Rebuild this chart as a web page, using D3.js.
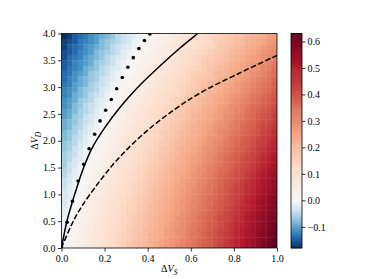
<!DOCTYPE html>
<html>
<head>
<meta charset="utf-8">
<script src="https://cdn.jsdelivr.net/npm/d3@7"></script>
<style>
  body { margin: 0; background: #fff; }
  text { font-family: "Liberation Serif", "DejaVu Serif", serif; font-size: 10px; fill: #000; }
</style>
</head>
<body>
<div id="chart"></div>
<script>
// tick labels
const vsTicks = [0, 0.2, 0.4, 0.6, 0.8, 1.0];
const vdTicks = [0, 0.5, 1.0, 1.5, 2.0, 2.5, 3.0, 3.5, 4.0];
const cbTicks = [-0.1, 0.0, 0.1, 0.2, 0.3, 0.4, 0.5, 0.6];

// heat map, 40 x 40 cells, rows go from ΔV_D = 4 (top) down to ΔV_D = 0,
// columns from ΔV_S = 0 to 1
const field = [
  [-0.18,-0.17,-0.15,-0.14,-0.13,-0.11,-0.10,-0.09,-0.08,-0.07,-0.05,-0.04,-0.03,-0.02,-0.01,0.00,0.01,0.02,0.03,0.04,0.05,0.06,0.07,0.08,0.09,0.10,0.12,0.13,0.14,0.15,0.16,0.17,0.18,0.19,0.21,0.22,0.23,0.24,0.26,0.27],
  [-0.17,-0.16,-0.15,-0.13,-0.12,-0.11,-0.10,-0.08,-0.07,-0.06,-0.05,-0.04,-0.03,-0.01,0.00,0.01,0.02,0.03,0.04,0.05,0.06,0.07,0.08,0.09,0.10,0.11,0.12,0.13,0.15,0.16,0.17,0.18,0.19,0.20,0.22,0.23,0.24,0.25,0.27,0.28],
  [-0.17,-0.15,-0.14,-0.13,-0.11,-0.10,-0.09,-0.08,-0.07,-0.05,-0.04,-0.03,-0.02,-0.01,0.00,0.01,0.02,0.03,0.05,0.06,0.07,0.08,0.09,0.10,0.11,0.12,0.13,0.14,0.15,0.17,0.18,0.19,0.20,0.21,0.23,0.24,0.25,0.27,0.28,0.29],
  [-0.16,-0.15,-0.14,-0.12,-0.11,-0.10,-0.08,-0.07,-0.06,-0.05,-0.04,-0.02,-0.01,0.00,0.01,0.02,0.03,0.04,0.05,0.06,0.07,0.08,0.10,0.11,0.12,0.13,0.14,0.15,0.16,0.17,0.19,0.20,0.21,0.22,0.24,0.25,0.26,0.28,0.29,0.30],
  [-0.16,-0.14,-0.13,-0.12,-0.10,-0.09,-0.08,-0.07,-0.05,-0.04,-0.03,-0.02,-0.01,0.00,0.02,0.03,0.04,0.05,0.06,0.07,0.08,0.09,0.10,0.11,0.13,0.14,0.15,0.16,0.17,0.18,0.19,0.21,0.22,0.23,0.25,0.26,0.27,0.29,0.30,0.31],
  [-0.15,-0.14,-0.12,-0.11,-0.10,-0.09,-0.07,-0.06,-0.05,-0.04,-0.02,-0.01,0.00,0.01,0.02,0.03,0.04,0.05,0.07,0.08,0.09,0.10,0.11,0.12,0.13,0.14,0.16,0.17,0.18,0.19,0.20,0.22,0.23,0.24,0.26,0.27,0.28,0.30,0.31,0.33],
  [-0.15,-0.13,-0.12,-0.11,-0.09,-0.08,-0.07,-0.05,-0.04,-0.03,-0.02,-0.01,0.00,0.02,0.03,0.04,0.05,0.06,0.07,0.08,0.09,0.11,0.12,0.13,0.14,0.15,0.16,0.18,0.19,0.20,0.21,0.23,0.24,0.25,0.26,0.28,0.29,0.31,0.32,0.34],
  [-0.14,-0.13,-0.11,-0.10,-0.09,-0.07,-0.06,-0.05,-0.04,-0.02,-0.01,0.00,0.01,0.02,0.03,0.05,0.06,0.07,0.08,0.09,0.10,0.11,0.12,0.14,0.15,0.16,0.17,0.18,0.20,0.21,0.22,0.23,0.25,0.26,0.27,0.29,0.30,0.32,0.33,0.35],
  [-0.14,-0.12,-0.11,-0.09,-0.08,-0.07,-0.06,-0.04,-0.03,-0.02,-0.01,0.00,0.02,0.03,0.04,0.05,0.06,0.07,0.09,0.10,0.11,0.12,0.13,0.14,0.16,0.17,0.18,0.19,0.20,0.22,0.23,0.24,0.26,0.27,0.28,0.30,0.31,0.33,0.34,0.36],
  [-0.13,-0.12,-0.10,-0.09,-0.08,-0.06,-0.05,-0.04,-0.03,-0.01,0.00,0.01,0.02,0.03,0.05,0.06,0.07,0.08,0.09,0.10,0.12,0.13,0.14,0.15,0.16,0.18,0.19,0.20,0.21,0.23,0.24,0.25,0.27,0.28,0.29,0.31,0.32,0.34,0.35,0.37],
  [-0.12,-0.11,-0.10,-0.08,-0.07,-0.06,-0.05,-0.03,-0.02,-0.01,0.00,0.02,0.03,0.04,0.05,0.06,0.08,0.09,0.10,0.11,0.12,0.13,0.15,0.16,0.17,0.18,0.20,0.21,0.22,0.23,0.25,0.26,0.27,0.29,0.30,0.32,0.33,0.35,0.36,0.38],
  [-0.12,-0.11,-0.09,-0.08,-0.07,-0.05,-0.04,-0.03,-0.01,0.00,0.01,0.02,0.03,0.05,0.06,0.07,0.08,0.09,0.11,0.12,0.13,0.14,0.15,0.17,0.18,0.19,0.20,0.22,0.23,0.24,0.26,0.27,0.28,0.30,0.31,0.33,0.34,0.36,0.37,0.39],
  [-0.11,-0.10,-0.09,-0.07,-0.06,-0.05,-0.03,-0.02,-0.01,0.00,0.02,0.03,0.04,0.05,0.06,0.08,0.09,0.10,0.11,0.12,0.14,0.15,0.16,0.17,0.18,0.20,0.21,0.22,0.24,0.25,0.26,0.28,0.29,0.31,0.32,0.34,0.35,0.37,0.38,0.40],
  [-0.11,-0.10,-0.08,-0.07,-0.05,-0.04,-0.03,-0.02,0.00,0.01,0.02,0.03,0.05,0.06,0.07,0.08,0.09,0.11,0.12,0.13,0.14,0.15,0.17,0.18,0.19,0.20,0.22,0.23,0.24,0.26,0.27,0.29,0.30,0.32,0.33,0.35,0.36,0.38,0.39,0.41],
  [-0.10,-0.09,-0.08,-0.06,-0.05,-0.04,-0.02,-0.01,0.00,0.01,0.03,0.04,0.05,0.06,0.08,0.09,0.10,0.11,0.12,0.14,0.15,0.16,0.17,0.19,0.20,0.21,0.23,0.24,0.25,0.27,0.28,0.29,0.31,0.32,0.34,0.36,0.37,0.39,0.40,0.42],
  [-0.10,-0.09,-0.07,-0.06,-0.04,-0.03,-0.02,-0.01,0.01,0.02,0.03,0.04,0.06,0.07,0.08,0.09,0.11,0.12,0.13,0.14,0.15,0.17,0.18,0.19,0.21,0.22,0.23,0.25,0.26,0.27,0.29,0.30,0.32,0.33,0.35,0.36,0.38,0.40,0.41,0.43],
  [-0.09,-0.08,-0.07,-0.05,-0.04,-0.03,-0.01,0.00,0.01,0.02,0.04,0.05,0.06,0.07,0.09,0.10,0.11,0.12,0.14,0.15,0.16,0.17,0.19,0.20,0.21,0.23,0.24,0.25,0.27,0.28,0.30,0.31,0.33,0.34,0.36,0.37,0.39,0.41,0.42,0.44],
  [-0.09,-0.08,-0.06,-0.05,-0.03,-0.02,-0.01,0.00,0.02,0.03,0.04,0.06,0.07,0.08,0.09,0.10,0.12,0.13,0.14,0.15,0.17,0.18,0.19,0.21,0.22,0.23,0.25,0.26,0.28,0.29,0.30,0.32,0.33,0.35,0.37,0.38,0.40,0.42,0.43,0.45],
  [-0.08,-0.07,-0.06,-0.04,-0.03,-0.02,0.00,0.01,0.02,0.04,0.05,0.06,0.07,0.09,0.10,0.11,0.12,0.14,0.15,0.16,0.17,0.19,0.20,0.21,0.23,0.24,0.25,0.27,0.28,0.30,0.31,0.33,0.34,0.36,0.37,0.39,0.41,0.43,0.44,0.46],
  [-0.08,-0.07,-0.05,-0.04,-0.02,-0.01,0.00,0.01,0.03,0.04,0.05,0.07,0.08,0.09,0.10,0.12,0.13,0.14,0.15,0.17,0.18,0.19,0.21,0.22,0.23,0.25,0.26,0.28,0.29,0.30,0.32,0.34,0.35,0.37,0.38,0.40,0.42,0.44,0.45,0.47],
  [-0.07,-0.06,-0.05,-0.03,-0.02,-0.01,0.01,0.02,0.03,0.05,0.06,0.07,0.08,0.10,0.11,0.12,0.13,0.15,0.16,0.17,0.19,0.20,0.21,0.23,0.24,0.25,0.27,0.28,0.30,0.31,0.33,0.34,0.36,0.38,0.39,0.41,0.43,0.44,0.46,0.48],
  [-0.07,-0.06,-0.04,-0.03,-0.01,0.00,0.01,0.02,0.04,0.05,0.06,0.08,0.09,0.10,0.11,0.13,0.14,0.15,0.17,0.18,0.19,0.21,0.22,0.23,0.25,0.26,0.28,0.29,0.30,0.32,0.34,0.35,0.37,0.38,0.40,0.42,0.44,0.45,0.47,0.49],
  [-0.06,-0.05,-0.04,-0.02,-0.01,0.00,0.02,0.03,0.04,0.06,0.07,0.08,0.09,0.11,0.12,0.13,0.15,0.16,0.17,0.18,0.20,0.21,0.23,0.24,0.25,0.27,0.28,0.30,0.31,0.33,0.34,0.36,0.38,0.39,0.41,0.43,0.44,0.46,0.48,0.50],
  [-0.06,-0.05,-0.03,-0.02,-0.01,0.01,0.02,0.03,0.05,0.06,0.07,0.09,0.10,0.11,0.12,0.14,0.15,0.16,0.18,0.19,0.20,0.22,0.23,0.25,0.26,0.27,0.29,0.30,0.32,0.33,0.35,0.37,0.38,0.40,0.42,0.43,0.45,0.47,0.49,0.51],
  [-0.06,-0.04,-0.03,-0.01,0.00,0.01,0.03,0.04,0.05,0.07,0.08,0.09,0.10,0.12,0.13,0.14,0.16,0.17,0.18,0.20,0.21,0.22,0.24,0.25,0.27,0.28,0.30,0.31,0.33,0.34,0.36,0.37,0.39,0.41,0.42,0.44,0.46,0.48,0.50,0.52],
  [-0.05,-0.04,-0.02,-0.01,0.00,0.02,0.03,0.04,0.06,0.07,0.08,0.10,0.11,0.12,0.14,0.15,0.16,0.17,0.19,0.20,0.22,0.23,0.24,0.26,0.27,0.29,0.30,0.32,0.33,0.35,0.36,0.38,0.40,0.42,0.43,0.45,0.47,0.49,0.51,0.53],
  [-0.05,-0.03,-0.02,-0.01,0.01,0.02,0.04,0.05,0.06,0.07,0.09,0.10,0.11,0.13,0.14,0.15,0.17,0.18,0.19,0.21,0.22,0.24,0.25,0.26,0.28,0.29,0.31,0.32,0.34,0.36,0.37,0.39,0.41,0.42,0.44,0.46,0.48,0.50,0.52,0.54],
  [-0.04,-0.03,-0.01,0.00,0.01,0.03,0.04,0.05,0.07,0.08,0.09,0.11,0.12,0.13,0.15,0.16,0.17,0.19,0.20,0.21,0.23,0.24,0.26,0.27,0.28,0.30,0.31,0.33,0.35,0.36,0.38,0.40,0.41,0.43,0.45,0.47,0.49,0.51,0.53,0.55],
  [-0.04,-0.02,-0.01,0.00,0.02,0.03,0.04,0.06,0.07,0.08,0.10,0.11,0.12,0.14,0.15,0.16,0.18,0.19,0.20,0.22,0.23,0.25,0.26,0.28,0.29,0.31,0.32,0.34,0.35,0.37,0.39,0.40,0.42,0.44,0.46,0.47,0.49,0.51,0.53,0.55],
  [-0.03,-0.02,-0.01,0.01,0.02,0.03,0.05,0.06,0.08,0.09,0.10,0.11,0.13,0.14,0.15,0.17,0.18,0.20,0.21,0.22,0.24,0.25,0.27,0.28,0.30,0.31,0.33,0.34,0.36,0.38,0.39,0.41,0.43,0.44,0.46,0.48,0.50,0.52,0.54,0.56],
  [-0.03,-0.02,0.00,0.01,0.03,0.04,0.05,0.07,0.08,0.09,0.11,0.12,0.13,0.15,0.16,0.17,0.19,0.20,0.21,0.23,0.24,0.26,0.27,0.29,0.30,0.32,0.33,0.35,0.36,0.38,0.40,0.42,0.43,0.45,0.47,0.49,0.51,0.53,0.55,0.57],
  [-0.03,-0.01,0.00,0.02,0.03,0.04,0.06,0.07,0.08,0.10,0.11,0.12,0.14,0.15,0.16,0.18,0.19,0.21,0.22,0.23,0.25,0.26,0.28,0.29,0.31,0.32,0.34,0.35,0.37,0.39,0.40,0.42,0.44,0.46,0.48,0.50,0.52,0.54,0.56,0.58],
  [-0.02,-0.01,0.01,0.02,0.03,0.05,0.06,0.07,0.09,0.10,0.11,0.13,0.14,0.15,0.17,0.18,0.20,0.21,0.22,0.24,0.25,0.27,0.28,0.30,0.31,0.33,0.34,0.36,0.38,0.39,0.41,0.43,0.45,0.47,0.48,0.50,0.52,0.54,0.57,0.59],
  [-0.02,0.00,0.01,0.02,0.04,0.05,0.06,0.08,0.09,0.10,0.12,0.13,0.15,0.16,0.17,0.19,0.20,0.21,0.23,0.24,0.26,0.27,0.29,0.30,0.32,0.33,0.35,0.37,0.38,0.40,0.42,0.44,0.45,0.47,0.49,0.51,0.53,0.55,0.57,0.59],
  [-0.01,0.00,0.01,0.03,0.04,0.05,0.07,0.08,0.10,0.11,0.12,0.14,0.15,0.16,0.18,0.19,0.20,0.22,0.23,0.25,0.26,0.28,0.29,0.31,0.32,0.34,0.35,0.37,0.39,0.41,0.42,0.44,0.46,0.48,0.50,0.52,0.54,0.56,0.58,0.60],
  [-0.01,0.00,0.02,0.03,0.04,0.06,0.07,0.09,0.10,0.11,0.13,0.14,0.15,0.17,0.18,0.19,0.21,0.22,0.24,0.25,0.27,0.28,0.30,0.31,0.33,0.34,0.36,0.38,0.39,0.41,0.43,0.45,0.47,0.48,0.50,0.52,0.54,0.56,0.59,0.61],
  [-0.01,0.01,0.02,0.03,0.05,0.06,0.08,0.09,0.10,0.12,0.13,0.14,0.16,0.17,0.18,0.20,0.21,0.23,0.24,0.26,0.27,0.29,0.30,0.32,0.33,0.35,0.36,0.38,0.40,0.42,0.43,0.45,0.47,0.49,0.51,0.53,0.55,0.57,0.59,0.61],
  [0.00,0.01,0.02,0.04,0.05,0.06,0.08,0.09,0.11,0.12,0.13,0.15,0.16,0.17,0.19,0.20,0.22,0.23,0.24,0.26,0.27,0.29,0.30,0.32,0.34,0.35,0.37,0.39,0.40,0.42,0.44,0.46,0.48,0.49,0.51,0.53,0.56,0.58,0.60,0.62],
  [0.00,0.01,0.03,0.04,0.05,0.07,0.08,0.09,0.11,0.12,0.14,0.15,0.16,0.18,0.19,0.20,0.22,0.23,0.25,0.26,0.28,0.29,0.31,0.32,0.34,0.36,0.37,0.39,0.41,0.42,0.44,0.46,0.48,0.50,0.52,0.54,0.56,0.58,0.60,0.63],
  [0.00,0.01,0.03,0.04,0.06,0.07,0.08,0.10,0.11,0.12,0.14,0.15,0.17,0.18,0.19,0.21,0.22,0.24,0.25,0.27,0.28,0.30,0.31,0.33,0.34,0.36,0.38,0.39,0.41,0.43,0.45,0.46,0.48,0.50,0.52,0.54,0.56,0.59,0.61,0.63]
];

// black dots
const dotVS = [0, 0.026, 0.051, 0.077, 0.103, 0.128, 0.154, 0.179, 0.205, 0.231, 0.256, 0.282, 0.308, 0.333, 0.359, 0.385, 0.41];
const dotVD = [0, 0.48, 0.87, 1.25, 1.56, 1.85, 2.12, 2.37, 2.57, 2.77, 2.97, 3.18, 3.37, 3.55, 3.72, 3.87, 3.99];

// solid curve
const solidVS = [0, 0.024, 0.051, 0.077, 0.103, 0.14, 0.2, 0.271, 0.35, 0.472, 0.55, 0.629, 0.66];
const solidVD = [0, 0.48, 0.87, 1.2, 1.5, 1.85, 2.24, 2.62, 2.98, 3.45, 3.73, 3.99, 4.09];

// dashed curve
const dashVS = [0, 0.045, 0.09, 0.182, 0.271, 0.395, 0.527, 0.643, 0.82, 1.0];
const dashVD = [0, 0.42, 0.75, 1.27, 1.70, 2.18, 2.59, 2.89, 3.25, 3.59];

const W = 371, H = 279;
const plot = { left: 61.5, right: 277, top: 33.5, bottom: 248 };
const bar = { left: 291, width: 11 };

const svg = d3.select('#chart').append('svg')
  .attr('width', W)
  .attr('height', H)
  .style('background-color', '#fff');

const x = d3.scaleLinear().domain([0, 1]).range([plot.left, plot.right]);
const y = d3.scaleLinear().domain([0, 4]).range([plot.bottom, plot.top]);
const col = d3.scaleBand().domain(d3.range(field[0].length)).range([plot.left, plot.right]);
const row = d3.scaleBand().domain(d3.range(field.length)).range([plot.top, plot.bottom]);

// RdBu_r with white pinned to zero
const [vmin, vmax] = d3.extent(field.flat());
const rdbuR = d3.piecewise(d3.interpolateRgb, d3.schemeRdBu[11].slice().reverse());
const color = d3.scaleDiverging().domain([vmin, 0, vmax]).interpolator(rdbuR);

svg.append('clipPath').attr('id', 'clip')
  .append('rect')
  .attr('x', plot.left).attr('y', plot.top)
  .attr('width', plot.right - plot.left).attr('height', plot.bottom - plot.top);

svg.append('g')
  .attr('clip-path', 'url(#clip)')
  .selectAll('g')
  .data(field)
  .join('g')
  .attr('transform', (r, j) => `translate(0,${row(j)})`)
  .selectAll('rect')
  .data(r => r)
  .join('rect')
  .attr('x', (v, i) => col(i))
  .attr('width', col.bandwidth() + 0.4)
  .attr('height', row.bandwidth() + 0.4)
  .attr('fill', v => color(v));

const marks = svg.append('g').attr('clip-path', 'url(#clip)');

const line = d3.line()
  .x(d => x(d[0]))
  .y(d => y(d[1]))
  .curve(d3.curveCatmullRom.alpha(0.5));

marks.append('path')
  .attr('d', line(d3.zip(solidVS, solidVD)))
  .attr('fill', 'none')
  .attr('stroke', '#000')
  .attr('stroke-width', 1.5);

marks.append('path')
  .attr('d', line(d3.zip(dashVS, dashVD)))
  .attr('fill', 'none')
  .attr('stroke', '#000')
  .attr('stroke-width', 1.5)
  .attr('stroke-dasharray', '5.5,2.4');

marks.selectAll('circle')
  .data(d3.zip(dotVS, dotVD))
  .join('circle')
  .attr('cx', d => x(d[0]))
  .attr('cy', d => y(d[1]))
  .attr('r', 1.8)
  .attr('fill', '#000');

svg.append('rect')
  .attr('x', plot.left).attr('y', plot.top)
  .attr('width', plot.right - plot.left).attr('height', plot.bottom - plot.top)
  .attr('fill', 'none')
  .attr('stroke', '#000')
  .attr('stroke-width', 0.8);

const fmt = d3.format('.1f');

const xAxis = svg.append('g')
  .attr('transform', `translate(0,${plot.bottom})`)
  .call(d3.axisBottom(x).tickValues(vsTicks).tickFormat(fmt).tickSize(3.5).tickPadding(3));
const yAxis = svg.append('g')
  .attr('transform', `translate(${plot.left},0)`)
  .call(d3.axisLeft(y).tickValues(vdTicks).tickFormat(fmt).tickSize(3.5).tickPadding(2.5));

// colour bar
const cy = d3.scaleLinear().domain([vmin, vmax]).range([plot.bottom, plot.top]);
const nSteps = 220;
const stepVals = d3.range(nSteps).map(k => vmin + (vmax - vmin) * k / nSteps);
const stepH = (plot.bottom - plot.top) / nSteps;
svg.append('g')
  .selectAll('rect')
  .data(stepVals)
  .join('rect')
  .attr('x', bar.left)
  .attr('y', v => cy(v) - stepH - 0.3)
  .attr('width', bar.width)
  .attr('height', stepH + 0.6)
  .attr('fill', v => color(v + (vmax - vmin) / nSteps / 2));

svg.append('rect')
  .attr('x', bar.left).attr('y', plot.top)
  .attr('width', bar.width).attr('height', plot.bottom - plot.top)
  .attr('fill', 'none')
  .attr('stroke', '#000')
  .attr('stroke-width', 0.8);

const cAxis = svg.append('g')
  .attr('transform', `translate(${bar.left + bar.width},0)`)
  .call(d3.axisRight(cy).tickValues(cbTicks).tickFormat(fmt).tickSize(3.5).tickPadding(2));

[xAxis, yAxis, cAxis].forEach(g => {
  g.select('.domain').remove();
  g.selectAll('line').attr('stroke', '#000').attr('stroke-width', 0.8);
});

// axis labels: ΔV_S and ΔV_D
const xLabel = svg.append('text')
  .attr('x', (plot.left + plot.right) / 2)
  .attr('y', 272)
  .attr('text-anchor', 'middle');
xLabel.append('tspan').text('Δ');
xLabel.append('tspan').attr('font-style', 'italic').text('V');
xLabel.append('tspan').attr('font-style', 'italic').attr('font-size', '7.5px').attr('dy', 2.5).text('S');

const yLabel = svg.append('text')
  .attr('transform', `translate(38,${(plot.top + plot.bottom) / 2}) rotate(-90)`)
  .attr('text-anchor', 'middle');
yLabel.append('tspan').text('Δ');
yLabel.append('tspan').attr('font-style', 'italic').text('V');
yLabel.append('tspan').attr('font-style', 'italic').attr('font-size', '7.5px').attr('dy', 2.5).text('D');
</script>
</body>
</html>
